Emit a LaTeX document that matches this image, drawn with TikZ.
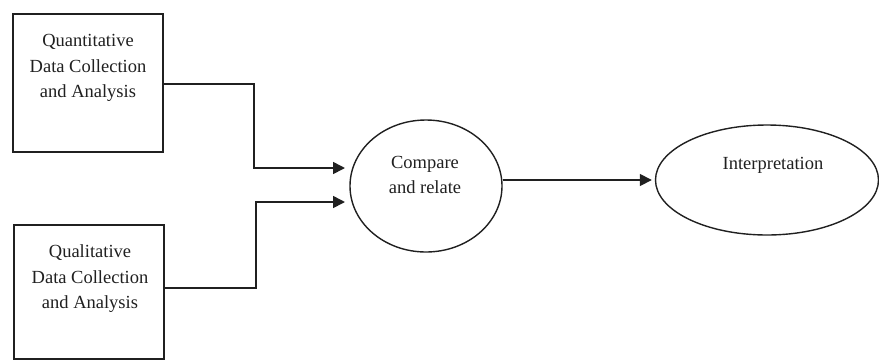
\documentclass[tikz,border=0pt]{standalone}
\usepackage{fontspec}
\setmainfont{Liberation Serif}
\usetikzlibrary{arrows.meta,shapes.geometric}
\definecolor{ink}{RGB}{32,32,32}
\tikzset{
  boxnode/.style={draw=ink, line width=1.6pt, minimum width=150pt, inner sep=0pt},
  ellnode/.style={draw=ink, line width=1.4pt, ellipse, inner sep=0pt},
  txt/.style={text=ink, align=center, font=\fontsize{18.5}{25.5}\selectfont, inner sep=0pt},
  arr/.style={draw=ink, line width=1.6pt, -{Triangle[length=12pt,width=12pt]}},
}
\begin{document}
\begin{tikzpicture}[x=1pt,y=-1pt]
\useasboundingbox (0,0) rectangle (879,360);
\node[boxnode, minimum height=138pt] (b1) at (88,83) {};
\node[txt] (b1t) at (88,68) {Quantitative\\Data Collection\\and Analysis};
\node[boxnode, minimum height=134pt] (b2) at (89,292) {};
\node[txt] (b2t) at (90,279) {Qualitative\\Data Collection\\and Analysis};
\node[ellnode, minimum width=152pt, minimum height=132pt] (e1) at (426,186) {};
\node[txt] (e1t) at (425,175) {Compare\\and relate};
\node[ellnode, minimum width=223pt, minimum height=110pt] (e2) at (767,180) {};
\node[txt] (e2t) at (773,165) {Interpretation};
\coordinate (t1) at (345,168);
\coordinate (t2) at (345,202);
\draw[arr] ([yshift=-1pt]b1.east) -- ++(90,0) |- (t1);
\draw[arr] ([yshift=4pt]b2.east) -- ++(91,0) |- (t2);
\draw[arr, shorten >=3pt] (e1.east |- e2.west) -- (e2.west);
\end{tikzpicture}
\end{document}
